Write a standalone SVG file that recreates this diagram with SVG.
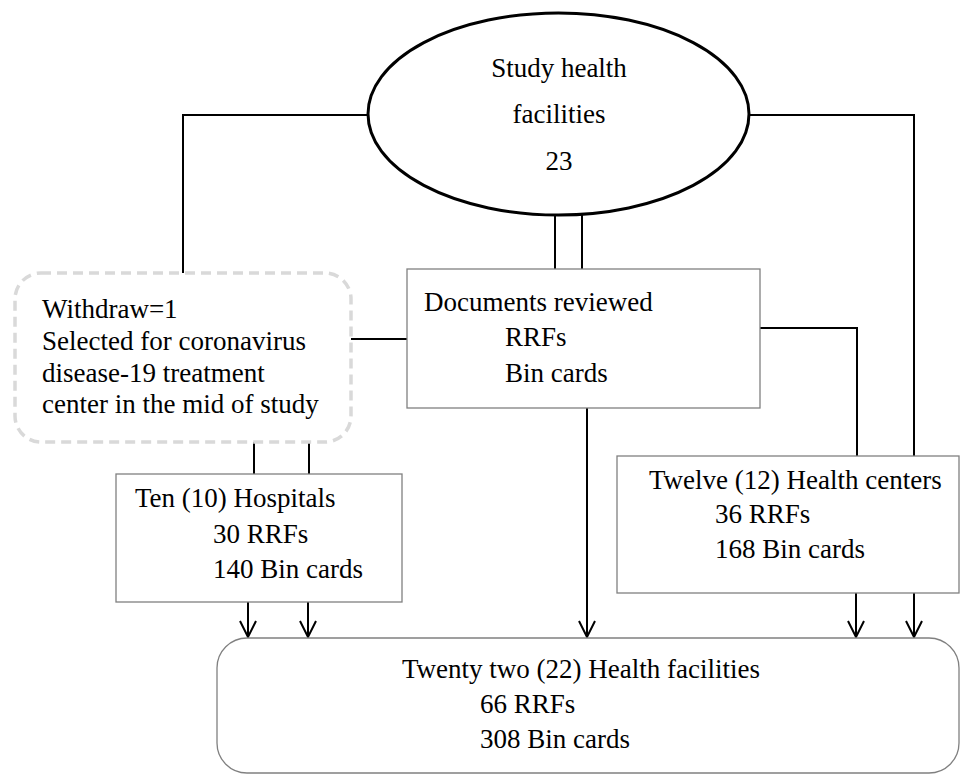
<svg xmlns="http://www.w3.org/2000/svg" width="960" height="775" viewBox="0 0 960 775">
<defs>
<marker id="arr" markerWidth="20" markerHeight="20" viewBox="-18 -10 20 20" refX="0" refY="0" orient="auto" markerUnits="userSpaceOnUse">
<path d="M-16,-8 L0,0 L-16,8" fill="none" stroke="#000" stroke-width="2"/>
</marker>
</defs>
<style>
text{font-family:"Liberation Serif","Times New Roman",serif;font-size:27px;fill:#000}
.box{fill:#fff;stroke:#808080;stroke-width:1.3}
.dash{fill:#fff;stroke:#d9d9d9;stroke-width:3.5;stroke-dasharray:10 6}
.ell{fill:#fff;stroke:#000;stroke-width:3}
.c{fill:none;stroke:#000;stroke-width:2}
.mid{text-anchor:middle}
</style>
<rect width="960" height="775" fill="#fff"/>
<g id="connectors">
<path class="c" d="M368,115 H183 V273"/>
<path class="c" d="M749,115 H914 V456"/>
<path class="c" d="M555,215 V269"/>
<path class="c" d="M582,215 V269"/>
<path class="c" d="M351,339 H407"/>
<path class="c" d="M760,328 H857 V456"/>
<path class="c" d="M254,442 V474"/>
<path class="c" d="M309,442 V474"/>
<path class="c" d="M587,408 V637" marker-end="url(#arr)"/>
<path class="c" d="M248,602 V637" marker-end="url(#arr)"/>
<path class="c" d="M308,602 V637" marker-end="url(#arr)"/>
<path class="c" d="M856,593 V637" marker-end="url(#arr)"/>
<path class="c" d="M914,593 V637" marker-end="url(#arr)"/>
</g>
<g id="study">
<ellipse class="ell" cx="558.5" cy="114" rx="190.5" ry="101"/>
<text class="mid" x="559" y="77" font-family="Liberation Serif, serif">Study health</text>
<text class="mid" x="559" y="123" font-family="Liberation Serif, serif">facilities</text>
<text class="mid" x="559" y="170" font-family="Liberation Serif, serif">23</text>
</g>
<g id="withdraw">
<rect class="dash" x="15" y="273" width="336" height="169" rx="26"/>
<text x="42" y="318">Withdraw=1</text>
<text x="42" y="350">Selected for coronavirus</text>
<text x="42" y="382">disease-19 treatment</text>
<text x="42" y="413">center in the mid of study</text>
</g>
<g id="documents">
<rect class="box" x="407" y="269" width="353" height="139"/>
<text x="424" y="311">Documents reviewed</text>
<text x="505" y="346">RRFs</text>
<text x="505" y="382">Bin cards</text>
</g>
<g id="hospitals">
<rect class="box" x="116" y="474" width="286" height="128"/>
<text x="135" y="507">Ten (10) Hospitals</text>
<text x="213" y="543">30 RRFs</text>
<text x="213" y="578">140 Bin cards</text>
</g>
<g id="healthcenters">
<rect class="box" x="617" y="456" width="342" height="137"/>
<text x="649" y="489">Twelve (12) Health centers</text>
<text x="715" y="523">36 RRFs</text>
<text x="715" y="558">168 Bin cards</text>
</g>
<g id="total">
<rect class="box" x="217" y="638" width="742" height="135" rx="30"/>
<text x="402" y="678">Twenty two (22) Health facilities</text>
<text x="480" y="713">66 RRFs</text>
<text x="480" y="748">308 Bin cards</text>
</g>
</svg>
